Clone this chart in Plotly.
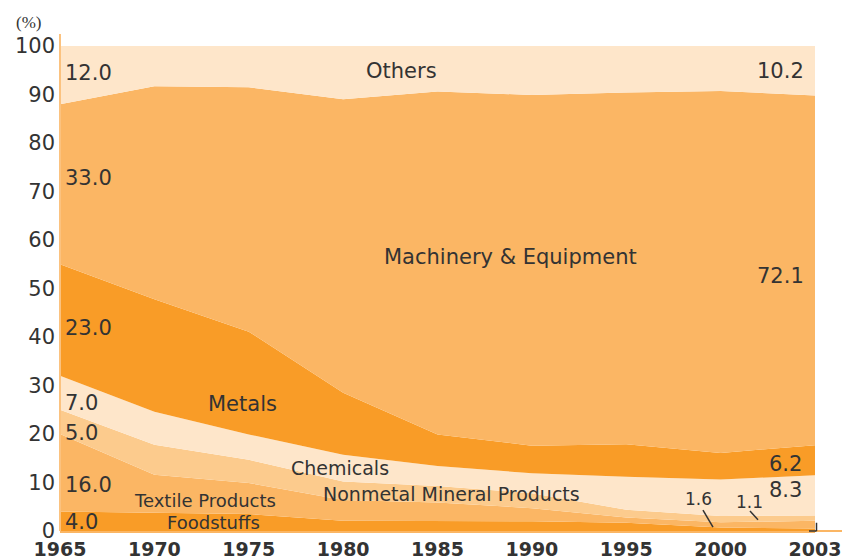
import plotly.graph_objects as go

years = ["1965", "1970", "1975", "1980", "1985", "1990", "1995", "2000", "2003"]

foodstuffs = [4.0, 3.7, 3.5, 2.1, 2.1, 2.0, 1.7, 0.7, 0.5]
textile = [16.0, 7.9, 6.4, 4.3, 3.8, 2.7, 1.1, 1.1, 1.6]
nonmetal = [5.0, 6.2, 4.8, 3.8, 3.4, 3.1, 1.6, 1.3, 1.1]
chemicals = [7.0, 6.8, 5.2, 5.5, 4.1, 4.1, 6.8, 7.5, 8.3]
metals = [23.0, 23.2, 21.2, 12.8, 6.5, 5.7, 6.7, 5.5, 6.2]
machinery = [33.0, 43.9, 50.4, 60.5, 70.7, 72.3, 72.5, 74.6, 72.1]
others = [12.0, 8.3, 8.5, 11.0, 9.4, 10.1, 9.6, 9.3, 10.2]

y_ticks = [0, 10, 20, 30, 40, 50, 60, 70, 80, 90, 100]

CREAM = "#FEE6CA"
LIGHT = "#FBB664"
DARK = "#F99C27"
PEACH = "#FCCB8D"

series = [
    ("Foodstuffs", foodstuffs, DARK),
    ("Textile Products", textile, LIGHT),
    ("Nonmetal Mineral Products", nonmetal, PEACH),
    ("Chemicals", chemicals, CREAM),
    ("Metals", metals, DARK),
    ("Machinery & Equipment", machinery, LIGHT),
    ("Others", others, CREAM),
]

xs = list(range(len(years)))

fig = go.Figure()
for name, vals, col in series:
    fig.add_trace(go.Scatter(
        x=xs, y=vals, name=name, stackgroup="one", mode="lines",
        line=dict(width=0, color=col), fillcolor=col, hoverinfo="name+y",
    ))

TXT = "#333333"
FONT = "DejaVu Sans"

labels = [
    ("12.0", 0.03, 94.4, "left", 21),
    ("Others", 3.62, 94.8, "center", 21),
    ("10.2", 7.63, 94.8, "center", 21),
    ("33.0", 0.03, 72.8, "left", 21),
    ("Machinery &amp; Equipment", 4.77, 56.5, "center", 21),
    ("72.1", 7.63, 52.6, "center", 21),
    ("23.0", 0.03, 41.9, "left", 21),
    ("Metals", 1.93, 26.2, "center", 21),
    ("7.0", 0.03, 26.4, "left", 21),
    ("5.0", 0.03, 20.2, "left", 21),
    ("Chemicals", 2.97, 13.0, "center", 19),
    ("16.0", 0.03, 9.5, "left", 21),
    ("Nonmetal Mineral Products", 4.15, 7.6, "center", 19),
    ("Textile Products", 1.54, 6.2, "center", 18),
    ("4.0", 0.03, 1.9, "left", 21),
    ("Foodstuffs", 1.63, 1.7, "center", 18),
    ("6.2", 7.69, 13.8, "center", 21),
    ("8.3", 7.69, 8.5, "center", 21),
    ("1.6", 6.77, 6.5, "center", 17),
    ("1.1", 7.31, 5.9, "center", 17),
    ("0.5", 8.18, 3.5, "center", 17),
]

annotations = []
for text, x, y, anchor, size in labels:
    annotations.append(dict(
        x=x, y=y, xref="x", yref="y", text=text, showarrow=False,
        xanchor=anchor, yanchor="middle",
        font=dict(family=FONT, size=size, color=TXT),
    ))

annotations.append(dict(
    x=-0.042, y=1.049, xref="paper", yref="paper", text="(%)", showarrow=False,
    xanchor="center", yanchor="middle",
    font=dict(family="Liberation Serif", size=17, color=TXT),
))

shapes = [
    dict(type="line", xref="x", yref="y", x0=6.813, y0=4.3, x1=6.919, y1=0.8,
         line=dict(color=TXT, width=1.5)),
    dict(type="line", xref="x", yref="y", x0=7.311, y0=4.1, x1=7.396, y1=2.3,
         line=dict(color=TXT, width=1.5)),
    dict(type="line", xref="paper", yref="paper", x0=1.002, y0=0.017, x1=1.002, y1=0.0,
         line=dict(color=TXT, width=1.5)),
    dict(type="line", xref="paper", yref="paper", x0=0.992, y0=0.0, x1=1.002, y1=0.0,
         line=dict(color=TXT, width=1.5)),
    dict(type="line", xref="paper", yref="paper", x0=0, y0=0, x1=0, y1=1.025,
         line=dict(color="#FBC27F", width=2)),
    dict(type="line", xref="paper", yref="paper", x0=0, y0=0, x1=1.04, y1=0,
         line=dict(color="#FBB664", width=2), layer="below"),
]

# the page body adds an 8px offset at left/top; size and margins compensate
# so the plot area lands at x 60..815, y 46..531 of the 850x560 window
fig.update_layout(
    width=842, height=552,
    margin=dict(l=52, r=35, t=38, b=29),
    paper_bgcolor="white", plot_bgcolor="white",
    showlegend=False,
    annotations=annotations,
    shapes=shapes,
    xaxis=dict(
        range=[0, 8], tickmode="array", tickvals=xs, ticktext=years,
        showgrid=False, zeroline=False, showline=True, linecolor="#FBB664", linewidth=2,
        ticks="", automargin=False,
        tickfont=dict(family=FONT, size=19, color=TXT, weight="bold"),
    ),
    yaxis=dict(
        range=[0, 100], tickmode="array", tickvals=y_ticks,
        showgrid=False, zeroline=False, showline=False,
        ticks="", ticklabelstandoff=4, automargin=False,
        tickfont=dict(family=FONT, size=21, color=TXT),
    ),
)

fig.write_html("out.html")
